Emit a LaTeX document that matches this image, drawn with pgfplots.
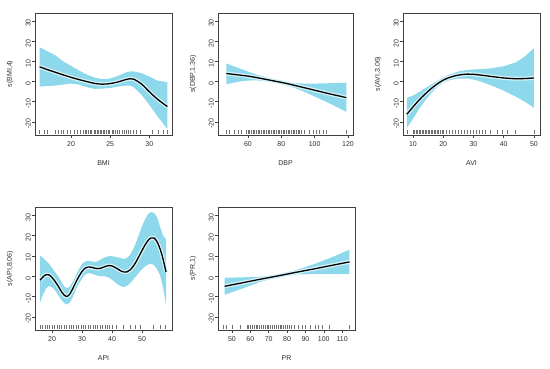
\documentclass[border=0pt]{standalone}
\usepackage{fontspec}
\setmainfont{Liberation Sans}
\usepackage{pgfplots}
\pgfplotsset{compat=1.18}
\usepackage{pgfplotstable}
\usepgfplotslibrary{fillbetween}
\definecolor{band}{HTML}{8DD8EA}
\definecolor{glow}{HTML}{D2F1F8}
\definecolor{txt}{HTML}{303030}
\definecolor{rugc}{HTML}{707070}

\pgfplotstableread{
x fit hi lo
16 7.3 17.0 -2.5
17 5.9 15.0 -2.2
18 4.6 13.0 -2.0
19 3.3 10.0 -1.5
20 2.1 7.8 -1.0
21 1.0 5.5 -1.5
22 0.0 3.5 -2.8
23 -0.9 2.0 -3.6
24 -1.3 1.2 -3.5
25 -1.0 1.5 -3.2
26 -0.2 2.8 -2.5
27 1.0 4.5 -2.0
27.5 1.4 5.0 -2.0
28 1.2 5.0 -2.8
29 -1.2 4.2 -6.5
30 -5.0 2.5 -11.5
31 -8.6 0.5 -17.0
32.3 -12.4 -0.3 -23.5
}\bmi
\pgfplotstableread{
x fit hi lo
47 4.0 9.0 -1.3
55 3.2 6.5 0.0
60 2.7 5.0 0.5
65 2.0 3.5 0.6
70 1.2 2.3 0.2
75 0.4 1.2 -0.4
80 -0.4 0.2 -1.2
85 -1.3 -0.5 -2.3
90 -2.3 -0.9 -3.8
95 -3.3 -1.0 -5.5
100 -4.3 -1.0 -7.4
105 -5.3 -0.9 -9.3
110 -6.3 -0.8 -11.2
115 -7.2 -0.7 -13.4
119 -8.0 -0.6 -15.0
}\dbp
\pgfplotstableread{
x fit hi lo
8 -16.2 -8.0 -23.0
10 -12.6 -7.0 -18.5
12 -9.2 -5.2 -13.5
14 -6.2 -3.3 -9.5
16 -3.5 -1.5 -5.8
18 -1.2 0.3 -2.7
20 0.7 2.0 -0.6
22 2.0 3.4 0.7
25 3.2 5.0 1.5
28 3.7 5.8 1.5
30 3.6 6.0 1.0
33 3.1 6.2 -0.3
36 2.5 6.6 -2.0
40 1.8 7.6 -4.5
44 1.4 9.5 -7.5
47 1.5 12.5 -10.0
50 1.8 16.5 -13.0
}\avi
\pgfplotstableread{
x fit hi lo
16 -2.0 10.0 -13.0
17 -0.3 9.0 -9.0
18 0.7 7.5 -6.0
19 0.6 6.0 -4.8
20 -0.7 4.0 -5.5
21 -2.6 2.0 -7.0
22 -4.8 0.0 -9.2
23 -7.3 -2.5 -11.5
24 -9.3 -5.0 -13.2
25 -10.0 -6.0 -14.0
26 -8.6 -5.0 -12.8
27 -5.8 -2.5 -10.0
28 -2.8 0.5 -6.5
29 0.0 3.5 -3.5
30 2.3 6.0 -1.2
31 3.9 7.2 0.8
32 4.5 7.5 1.5
33 4.4 7.3 1.3
34 4.0 7.0 0.8
35 3.7 7.2 0.3
36 3.8 8.0 0.0
37 4.3 8.8 0.0
38 4.9 9.5 -0.2
39 5.2 9.8 -0.8
40 5.0 9.8 -1.8
41 4.3 9.5 -3.0
42 3.4 9.2 -4.2
43 2.5 8.8 -5.0
44 2.0 8.5 -5.3
45 2.1 9.0 -4.8
46 3.0 10.5 -3.5
47 4.7 13.0 -1.8
48 7.0 16.5 0.0
49 9.8 20.5 1.8
50 12.6 24.5 3.4
51 15.3 28.0 4.8
52 17.5 30.5 5.7
53 18.8 31.5 6.0
54 18.8 31.2 5.5
55 17.0 29.0 3.5
56 13.5 24.5 0.5
57 8.5 20.0 -5.5
58 2.0 18.0 -14.0
}\api
\pgfplotstableread{
x fit hi lo
46 -5.0 -0.8 -9.2
55 -3.4 -0.6 -6.3
65 -1.6 -0.3 -3.0
75 0.1 0.6 -0.4
85 1.9 3.0 0.8
95 3.6 6.0 1.0
105 5.4 9.5 1.0
114 7.0 13.0 1.0
}\pr

\pgfplotsset{
  rgam/.style={
    scale only axis, width=137pt, height=122pt,
    ymin=-26.5, ymax=34, ytick={-20,-10,0,10,20,30},
    axis line style={draw=black!75, line width=0.6pt},
    tick align=outside, xtick pos=lower, ytick pos=left,
    major tick length=3pt, tick style={draw=black!75, line width=0.5pt},
    font=\fontsize{7}{8}\selectfont, color=txt,
    /pgf/number format/assume math mode=true,
    yticklabel style={rotate=90, anchor=south, inner sep=1pt, xshift=-2pt},
    xticklabel style={anchor=north, inner sep=1pt, yshift=-2.5pt},
    every axis x label/.style={at={(axis description cs:0.5,0)}, yshift=-28pt, anchor=center},
    every axis y label/.style={at={(axis description cs:0,0.5)}, xshift=-25pt, rotate=90, anchor=center},
    clip=true,
  },
  bandfill/.style={fill=band, draw=none},
  glowline/.style={draw=glow, line width=4pt},
  fitline/.style={draw=black, line width=1.3pt},
  rug/.style={only marks, mark=|, mark size=2pt, mark options={draw=rugc, line width=0.4pt}},
}

\begin{document}
\begin{tikzpicture}[x=1pt,y=1pt]
\path (0,0) rectangle (550,368);

% Panel 1: BMI
\begin{axis}[rgam, at={(35pt,233pt)}, anchor=south west,
  xmin=15.4, xmax=32.9, xtick={20,25,30},
  xlabel={BMI}, ylabel={s(BMI,4)}]
\addplot[name path=h1, draw=none] table[x=x,y=hi]{\bmi};
\addplot[name path=l1, draw=none] table[x=x,y=lo]{\bmi};
\addplot[bandfill] fill between[of=h1 and l1];
\addplot[glowline, smooth] table[x=x,y=fit]{\bmi};
\addplot[fitline, smooth] table[x=x,y=fit]{\bmi};
\addplot[rug] coordinates {(16.0,-25)(16.6,-25)(17.0,-25)(18.0,-25)(18.3,-25)(18.7,-25)(19.0,-25)(19.5,-25)(19.9,-25)(20.4,-25)(20.8,-25)(21.2,-25)(21.5,-25)(21.8,-25)(22.0,-25)(22.2,-25)(22.4,-25)(22.6,-25)(22.9,-25)(23.1,-25)(23.3,-25)(23.5,-25)(23.7,-25)(23.9,-25)(24.1,-25)(24.3,-25)(24.5,-25)(24.7,-25)(24.9,-25)(25.2,-25)(25.4,-25)(25.6,-25)(25.9,-25)(26.2,-25)(26.5,-25)(26.8,-25)(27.0,-25)(27.3,-25)(27.6,-25)(28.0,-25)(28.3,-25)(28.9,-25)(30.4,-25)(31.2,-25)(31.8,-25)(32.3,-25)};
\end{axis}

% Panel 2: DBP
\begin{axis}[rgam, at={(218pt,233pt)}, anchor=south west, width=135pt,
  xmin=42, xmax=123, xtick={60,80,100,120},
  xlabel={DBP}, ylabel={s(DBP,1.36)}]
\addplot[name path=h2, draw=none] table[x=x,y=hi]{\dbp};
\addplot[name path=l2, draw=none] table[x=x,y=lo]{\dbp};
\addplot[bandfill] fill between[of=h2 and l2];
\addplot[glowline, smooth] table[x=x,y=fit]{\dbp};
\addplot[fitline, smooth] table[x=x,y=fit]{\dbp};
\addplot[rug] coordinates {(47,-25)(49,-25)(52,-25)(54,-25)(56,-25)(59,-25)(60,-25)(61,-25)(62,-25)(63,-25)(64,-25)(65,-25)(66,-25)(67,-25)(68,-25)(69,-25)(70,-25)(71,-25)(72,-25)(73,-25)(74,-25)(75,-25)(76,-25)(77,-25)(78,-25)(79,-25)(80,-25)(81,-25)(82,-25)(83,-25)(84,-25)(85,-25)(86,-25)(87,-25)(88,-25)(89,-25)(90,-25)(91,-25)(92,-25)(94,-25)(97,-25)(99,-25)(101,-25)(103,-25)(105,-25)(107,-25)(119,-25)};
\end{axis}

% Panel 3: AVI
\begin{axis}[rgam, at={(403pt,233pt)}, anchor=south west,
  xmin=6.7, xmax=52, xtick={10,20,30,40,50},
  xlabel={AVI}, ylabel={s(AVI,3.06)}]
\addplot[name path=h3, draw=none] table[x=x,y=hi]{\avi};
\addplot[name path=l3, draw=none] table[x=x,y=lo]{\avi};
\addplot[bandfill] fill between[of=h3 and l3];
\addplot[glowline, smooth] table[x=x,y=fit]{\avi};
\addplot[fitline, smooth] table[x=x,y=fit]{\avi};
\addplot[rug] coordinates {(8,-25)(10,-25)(10.5,-25)(11,-25)(11.5,-25)(12,-25)(12.5,-25)(13,-25)(13.5,-25)(14,-25)(14.5,-25)(15,-25)(15.5,-25)(16,-25)(16.5,-25)(17,-25)(17.5,-25)(18,-25)(18.5,-25)(19,-25)(19.5,-25)(20,-25)(21,-25)(22,-25)(23,-25)(24,-25)(25,-25)(26,-25)(27,-25)(28,-25)(29,-25)(30,-25)(31,-25)(32,-25)(33,-25)(34,-25)(35.5,-25)(37.7,-25)(39.4,-25)(41,-25)(43.8,-25)(50,-25)};
\end{axis}

% Panel 4: API
\begin{axis}[rgam, at={(35pt,38pt)}, anchor=south west, height=123pt,
  xmin=14.3, xmax=60, xtick={20,30,40,50},
  xlabel={API}, ylabel={s(API,8.06)}]
\addplot[name path=h4, draw=none] table[x=x,y=hi]{\api};
\addplot[name path=l4, draw=none] table[x=x,y=lo]{\api};
\addplot[bandfill] fill between[of=h4 and l4];
\addplot[glowline, smooth] table[x=x,y=fit]{\api};
\addplot[fitline, smooth] table[x=x,y=fit]{\api};
\addplot[rug] coordinates {(16,-25)(16.8,-25)(17.6,-25)(18.4,-25)(19.2,-25)(20,-25)(20.8,-25)(21.6,-25)(22.4,-25)(23.2,-25)(24,-25)(24.8,-25)(25.6,-25)(26.4,-25)(27.2,-25)(28,-25)(28.8,-25)(29.6,-25)(30.4,-25)(31.2,-25)(32,-25)(32.8,-25)(33.6,-25)(34.4,-25)(35.2,-25)(36,-25)(36.8,-25)(37.6,-25)(38.4,-25)(39.2,-25)(40,-25)(41.5,-25)(43.7,-25)(46,-25)(47.6,-25)(49.3,-25)(53.7,-25)(56,-25)(57.6,-25)};
\end{axis}

% Panel 5: PR
\begin{axis}[rgam, at={(218pt,38pt)}, anchor=south west, height=123pt,
  xmin=42.4, xmax=117, xtick={50,60,70,80,90,100,110},
  xlabel={PR}, ylabel={s(PR,1)}]
\addplot[name path=h5, draw=none] table[x=x,y=hi]{\pr};
\addplot[name path=l5, draw=none] table[x=x,y=lo]{\pr};
\addplot[bandfill] fill between[of=h5 and l5];
\addplot[glowline] table[x=x,y=fit]{\pr};
\addplot[fitline] table[x=x,y=fit]{\pr};
\addplot[rug] coordinates {(45.3,-25)(47.1,-25)(49.9,-25)(54.4,-25)(58.1,-25)(59,-25)(60,-25)(61,-25)(62,-25)(63,-25)(64,-25)(65,-25)(66,-25)(67,-25)(68,-25)(69,-25)(70,-25)(71,-25)(72,-25)(73,-25)(74,-25)(75,-25)(76,-25)(77,-25)(78,-25)(79,-25)(80,-25)(81,-25)(82,-25)(84,-25)(86,-25)(88,-25)(90,-25)(92.7,-25)(95.4,-25)(97.2,-25)(99,-25)(102.7,-25)(113.6,-25)};
\end{axis}
\end{tikzpicture}
\end{document}
